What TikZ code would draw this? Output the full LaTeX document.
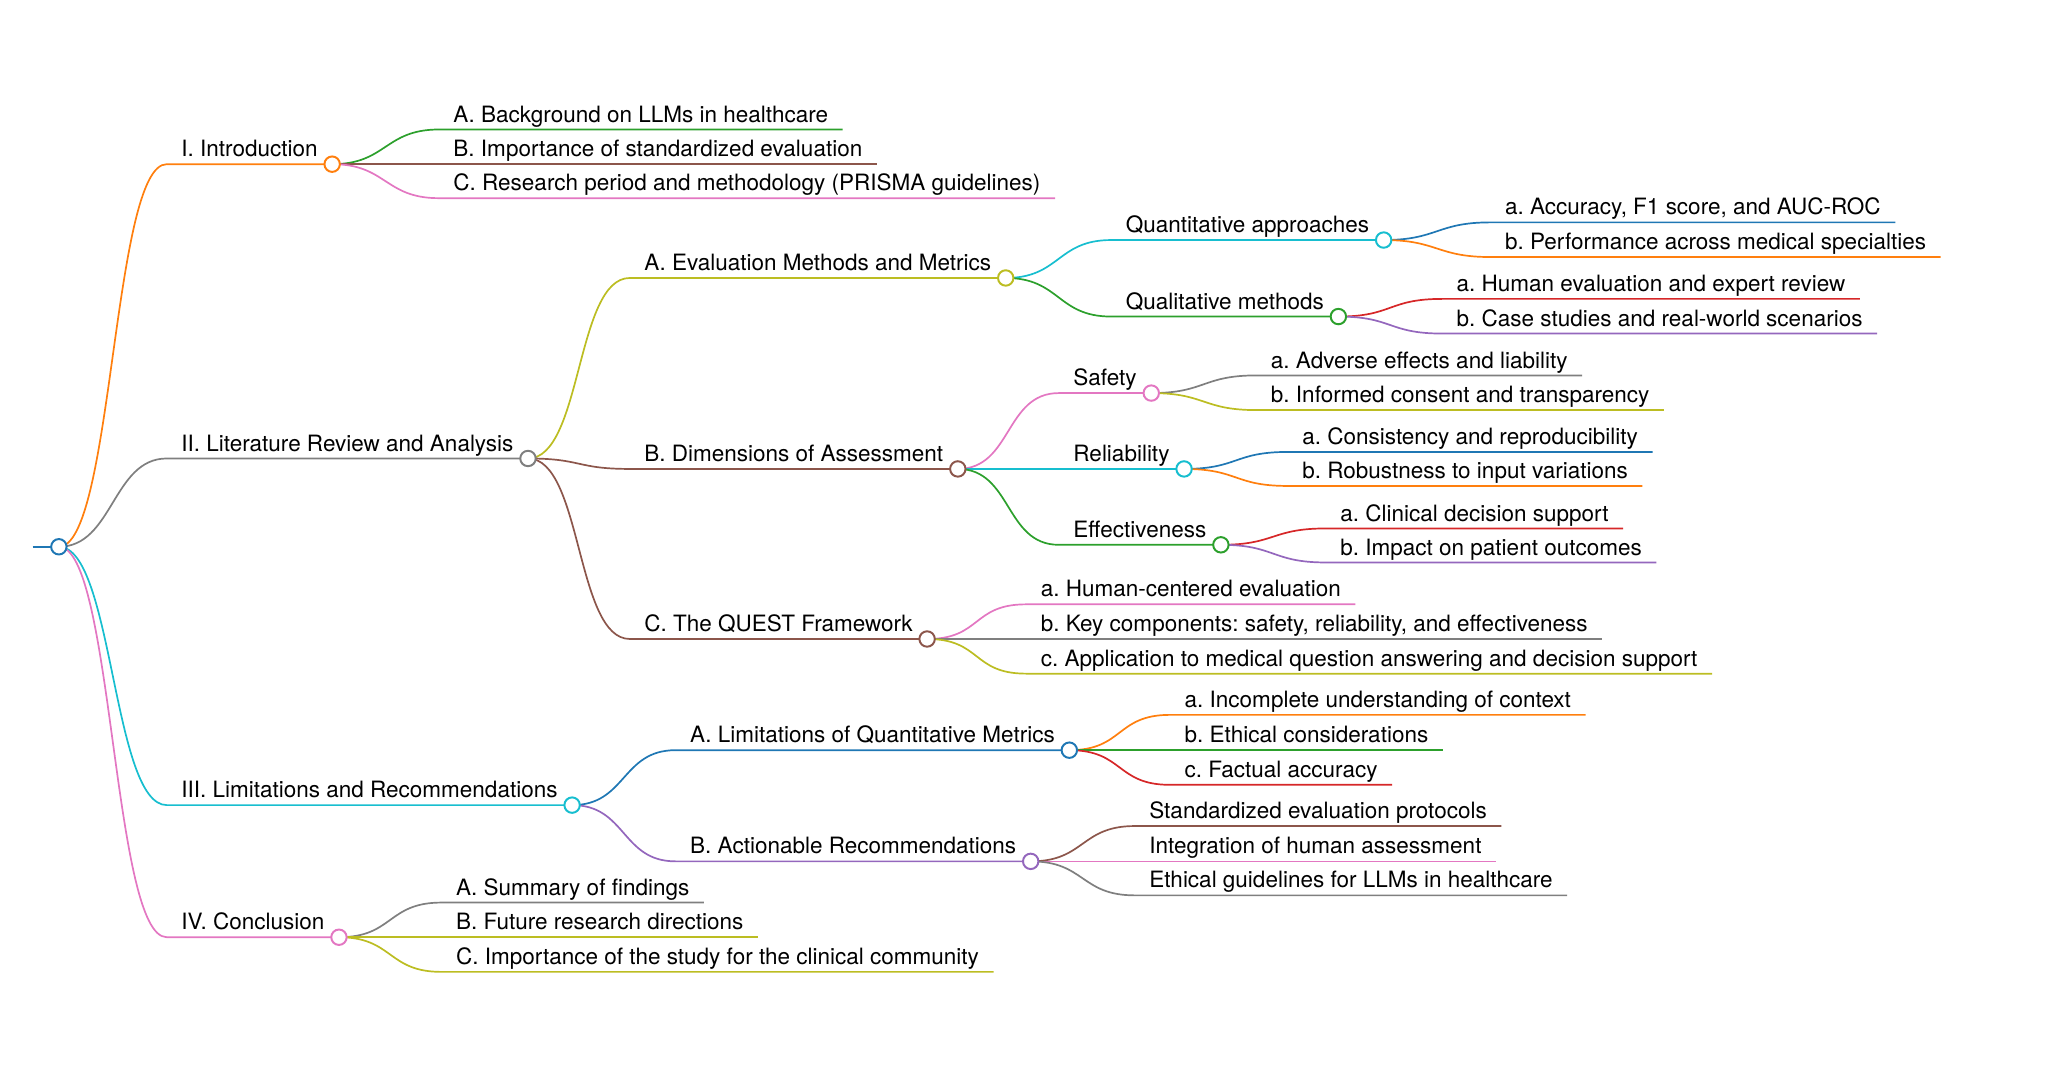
\documentclass[tikz,border=0pt]{standalone}
\usepackage{fontspec}
\setmainfont{TeX Gyre Heros}
\frenchspacing
\definecolor{mblue}{HTML}{1F77B4}
\definecolor{morange}{HTML}{FF7F0E}
\definecolor{mgreen}{HTML}{2CA02C}
\definecolor{mred}{HTML}{D62728}
\definecolor{mpurple}{HTML}{9467BD}
\definecolor{mbrown}{HTML}{8C564B}
\definecolor{mpink}{HTML}{E377C2}
\definecolor{mgray}{HTML}{7F7F7F}
\definecolor{molive}{HTML}{BCBD22}
\definecolor{mcyan}{HTML}{17BECF}
\newcommand\dX{41.5}

\begin{document}
\begin{tikzpicture}
  [x=0.5pt, y=-0.5pt, line width=0.65pt,
   topic/.style = {
     anchor=south west, inner xsep=5.25pt, inner ysep=0pt,
     text depth=2.5pt, font=\fontsize{8.6}{10}\selectfont
   },
   dot/.style = {
     circle, draw=#1, fill=white, line width=0.75pt,
     inner sep=0pt, minimum size=5.9pt
   },
   curvy/.style = {
     to path={.. controls +(\dX,0) and +(-\dX,0) .. (\tikztotarget)}
   }]

	\useasboundingbox (0,0) rectangle (1568,826);

	% Root.
	\coordinate (rootin) at (25,418);
	\coordinate (rootc) at (45,418);

	% Level 1.
	\node[topic] at (127.5,125.5) (intro) {I. Introduction};
	\node[topic] at (127.5,350.5) (lit) {II. Literature Review and Analysis};
	\node[topic] at (127.5,615.5) (lim) {III. Limitations and Recommendations};
	\node[topic] at (127.5,716.5) (conc) {IV. Conclusion};

	% I. Introduction
	\node[topic] at (335.5,99) (introA) {A. Background on LLMs in healthcare};
	\node[topic] at (335.5,125.5) (introB) {B. Importance of standardized evaluation};
	\node[topic] at (335.5,151.5) (introC) {C. Research period and methodology (PRISMA guidelines)};

	% II. Literature review
	\node[topic] at (481.5,212.5) (eval) {A. Evaluation Methods and Metrics};
	\node[topic] at (481.5,358.5) (dims) {B. Dimensions of Assessment};
	\node[topic] at (481.5,488.5) (quest) {C. The QUEST Framework};

	\node[topic] at (849.5,183.5) (quant) {Quantitative approaches};
	\node[topic] at (849.5,242) (qual) {Qualitative methods};
	\node[topic] at (1139.5,170) (quantA) {a. Accuracy, F1 score, and AUC-ROC};
	\node[topic] at (1139.5,196.5) (quantB) {b. Performance across medical specialties};
	\node[topic] at (1102.5,228.5) (qualA) {a. Human evaluation and expert review};
	\node[topic] at (1102.5,255) (qualB) {b. Case studies and real-world scenarios};

	\node[topic] at (809.5,300.5) (safety) {Safety};
	\node[topic] at (809.5,358.5) (reliab) {Reliability};
	\node[topic] at (809.5,416.5) (effect) {Effectiveness};
	\node[topic] at (960.5,287) (safeA) {a. Adverse effects and liability};
	\node[topic] at (960.5,313.5) (safeB) {b. Informed consent and transparency};
	\node[topic] at (984.5,345.5) (relA) {a. Consistency and reproducibility};
	\node[topic] at (984.5,371.5) (relB) {b. Robustness to input variations};
	\node[topic] at (1013.5,404) (effA) {a. Clinical decision support};
	\node[topic] at (1013.5,430) (effB) {b. Impact on patient outcomes};

	\node[topic] at (784.5,462) (questA) {a. Human-centered evaluation};
	\node[topic] at (784.5,488.5) (questB) {b. Key components: safety, reliability, and effectiveness};
	\node[topic] at (784.5,515) (questC) {c. Application to medical question answering and decision support};

	% III. Limitations
	\node[topic] at (516.5,573.5) (limq) {A. Limitations of Quantitative Metrics};
	\node[topic] at (516.5,658.5) (recs) {B. Actionable Recommendations};
	\node[topic] at (894.5,546.5) (limqA) {a. Incomplete understanding of context};
	\node[topic] at (894.5,573.5) (limqB) {b. Ethical considerations};
	\node[topic] at (894.5,600) (limqC) {c. Factual accuracy};
	\node[topic] at (867.5,631.5) (recsA) {Standardized evaluation protocols};
	\node[topic] at (867.5,658.5) (recsB) {Integration of human assessment};
	\node[topic] at (867.5,684.5) (recsC) {Ethical guidelines for LLMs in healthcare};

	% IV. Conclusion
	\node[topic] at (337.5,690) (concA) {A. Summary of findings};
	\node[topic] at (337.5,716.5) (concB) {B. Future research directions};
	\node[topic] at (337.5,743) (concC) {C. Importance of the study for the clinical community};

	% Branches from the root.
	\draw[mblue, line width=0.8pt] (rootin) -- (rootc);
	\draw[morange] (rootc) to[curvy] (intro.south west) -- (intro.south east);
	\draw[mgray] (rootc) to[curvy] (lit.south west) -- (lit.south east);
	\draw[mcyan] (rootc) to[curvy] (lim.south west) -- (lim.south east);
	\draw[mpink] (rootc) to[curvy] (conc.south west) -- (conc.south east);

	\draw[mgreen] (intro.south east) to[curvy] (introA.south west) -- (introA.south east);
	\draw[mbrown] (intro.south east) to[curvy] (introB.south west) -- (introB.south east);
	\draw[mpink] (intro.south east) to[curvy] (introC.south west) -- (introC.south east);

	\draw[molive] (lit.south east) to[curvy] (eval.south west) -- (eval.south east);
	\draw[mbrown] (lit.south east) to[curvy] (dims.south west) -- (dims.south east);
	\draw[mbrown] (lit.south east) to[curvy] (quest.south west) -- (quest.south east);

	\draw[mcyan] (eval.south east) to[curvy] (quant.south west) -- (quant.south east);
	\draw[mgreen] (eval.south east) to[curvy] (qual.south west) -- (qual.south east);
	\draw[mblue] (quant.south east) to[curvy] (quantA.south west) -- (quantA.south east);
	\draw[morange] (quant.south east) to[curvy] (quantB.south west) -- (quantB.south east);
	\draw[mred] (qual.south east) to[curvy] (qualA.south west) -- (qualA.south east);
	\draw[mpurple] (qual.south east) to[curvy] (qualB.south west) -- (qualB.south east);

	\draw[mpink] (dims.south east) to[curvy] (safety.south west) -- (safety.south east);
	\draw[mcyan] (dims.south east) to[curvy] (reliab.south west) -- (reliab.south east);
	\draw[mgreen] (dims.south east) to[curvy] (effect.south west) -- (effect.south east);
	\draw[mgray] (safety.south east) to[curvy] (safeA.south west) -- (safeA.south east);
	\draw[molive] (safety.south east) to[curvy] (safeB.south west) -- (safeB.south east);
	\draw[mblue] (reliab.south east) to[curvy] (relA.south west) -- (relA.south east);
	\draw[morange] (reliab.south east) to[curvy] (relB.south west) -- (relB.south east);
	\draw[mred] (effect.south east) to[curvy] (effA.south west) -- (effA.south east);
	\draw[mpurple] (effect.south east) to[curvy] (effB.south west) -- (effB.south east);

	\draw[mpink] (quest.south east) to[curvy] (questA.south west) -- (questA.south east);
	\draw[mgray] (quest.south east) to[curvy] (questB.south west) -- (questB.south east);
	\draw[molive] (quest.south east) to[curvy] (questC.south west) -- (questC.south east);

	\draw[mblue] (lim.south east) to[curvy] (limq.south west) -- (limq.south east);
	\draw[mpurple] (lim.south east) to[curvy] (recs.south west) -- (recs.south east);
	\draw[morange] (limq.south east) to[curvy] (limqA.south west) -- (limqA.south east);
	\draw[mgreen] (limq.south east) to[curvy] (limqB.south west) -- (limqB.south east);
	\draw[mred] (limq.south east) to[curvy] (limqC.south west) -- (limqC.south east);
	\draw[mbrown] (recs.south east) to[curvy] (recsA.south west) -- (recsA.south east);
	\draw[mpink] (recs.south east) to[curvy] (recsB.south west) -- (recsB.south east);
	\draw[mgray] (recs.south east) to[curvy] (recsC.south west) -- (recsC.south east);

	\draw[mgray] (conc.south east) to[curvy] (concA.south west) -- (concA.south east);
	\draw[molive] (conc.south east) to[curvy] (concB.south west) -- (concB.south east);
	\draw[molive] (conc.south east) to[curvy] (concC.south west) -- (concC.south east);

	% Open dots on top of the joints.
	\node[dot=mblue] at (rootc) (root) {};
	\node[dot=morange] at (intro.south east) (introdot) {};
	\node[dot=mgray] at (lit.south east) (litdot) {};
	\node[dot=mcyan] at (lim.south east) (limdot) {};
	\node[dot=mpink] at (conc.south east) (concdot) {};
	\node[dot=molive] at (eval.south east) (evaldot) {};
	\node[dot=mbrown] at (dims.south east) (dimsdot) {};
	\node[dot=mbrown] at (quest.south east) (questdot) {};
	\node[dot=mcyan] at (quant.south east) (quantdot) {};
	\node[dot=mgreen] at (qual.south east) (qualdot) {};
	\node[dot=mpink] at (safety.south east) (safetydot) {};
	\node[dot=mcyan] at (reliab.south east) (reliabdot) {};
	\node[dot=mgreen] at (effect.south east) (effectdot) {};
	\node[dot=mblue] at (limq.south east) (limqdot) {};
	\node[dot=mpurple] at (recs.south east) (recsdot) {};

\end{tikzpicture}
\end{document}
